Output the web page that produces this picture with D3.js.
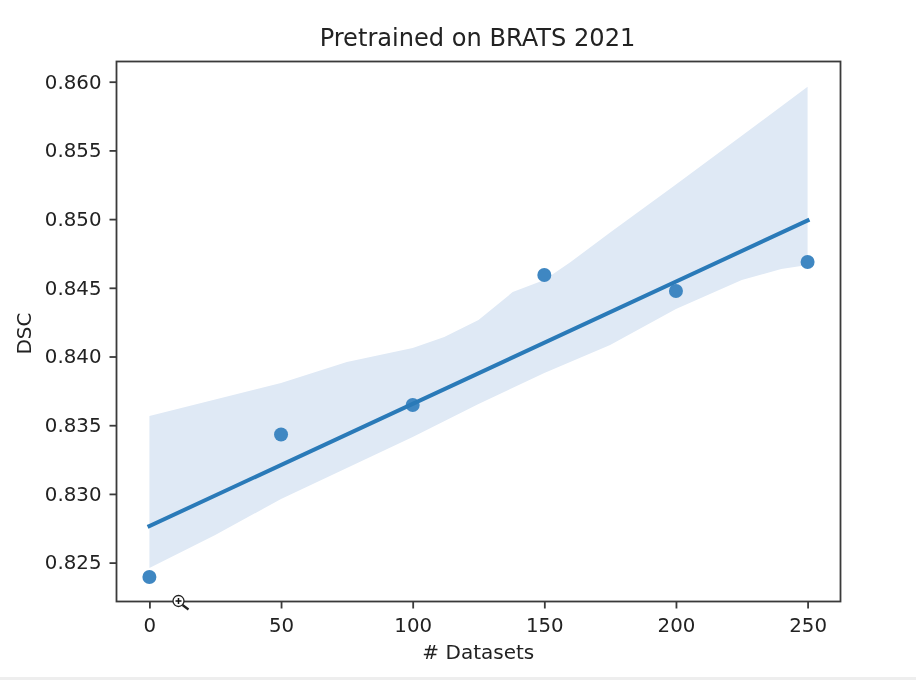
<!DOCTYPE html>
<html>
<head>
<meta charset="utf-8">
<script src="https://cdn.jsdelivr.net/npm/d3@7"></script>
<style>
html,body{margin:0;padding:0;background:#fff;}
svg{display:block;filter:blur(0.45px);}
text{font-family:"DejaVu Sans",sans-serif;fill:#222;}
</style>
</head>
<body>
<svg id="chart" width="916" height="680"></svg>
<script>
const datasets = [0, 50, 100, 150, 200, 250];
const dsc = [0.82395, 0.83432, 0.83647, 0.84593, 0.84477, 0.84688];
const fitX = [0, 250];
const fitY = [0.82766, 0.8499];
const upperX = [0, 50, 75, 100, 112, 125, 138, 150, 160, 175, 200, 225, 250];
const upperY = [0.83567, 0.83807, 0.8396, 0.84062, 0.84142, 0.84266, 0.84469, 0.84557, 0.84688, 0.84902, 0.85251, 0.85606, 0.85964];
const lowerX = [0, 25, 50, 75, 100, 125, 150, 175, 200, 225, 240, 250];
const lowerY = [0.82461, 0.82701, 0.82963, 0.83188, 0.83414, 0.83654, 0.8388, 0.84084, 0.84346, 0.84557, 0.84637, 0.84666];
const xTicks = [0, 50, 100, 150, 200, 250];
const yTicks = [0.825, 0.83, 0.835, 0.84, 0.845, 0.85, 0.855, 0.86];
const titleText = "Pretrained on BRATS 2021";
const xLabel = "# Datasets";
const yLabel = "DSC";

const axisColor = "#3a3a3a";
const svg = d3.select("#chart");
const x = d3.scaleLinear().domain([-12.5, 262.5]).range([116.5, 840.5]);
const y = d3.scaleLinear().domain([0.82217, 0.86147]).range([601.5, 61.5]);

// confidence band
const band = upperX.map((v, i) => [x(v), y(upperY[i])])
  .concat(lowerX.map((v, i) => [x(v), y(lowerY[i])]).reverse());
svg.append("path")
  .attr("d", d3.line()(band) + "Z")
  .attr("fill", "#dfe9f5");

// points
svg.append("g").selectAll("circle").data(datasets).join("circle")
  .attr("cx", d => x(d))
  .attr("cy", (d, i) => y(dsc[i]))
  .attr("r", 7)
  .attr("fill", "#3f87c2");

// regression line
svg.append("path")
  .attr("d", d3.line()(fitX.map((v, i) => [x(v), y(fitY[i])])))
  .attr("fill", "none")
  .attr("stroke", "#2a7ab8")
  .attr("stroke-width", 4)
  .attr("stroke-linecap", "square");

// frame
svg.append("rect")
  .attr("x", x.range()[0]).attr("y", y.range()[1])
  .attr("width", x.range()[1] - x.range()[0])
  .attr("height", y.range()[0] - y.range()[1])
  .attr("fill", "none").attr("stroke", axisColor).attr("stroke-width", 1.8);

// axes
const xAxis = d3.axisBottom(x).tickValues(xTicks).tickSize(7).tickPadding(9).tickFormat(d3.format("d"));
const yAxis = d3.axisLeft(y).tickValues(yTicks).tickSize(7).tickPadding(8).tickFormat(d3.format(".3f"));
const gx = svg.append("g").attr("transform", `translate(0,${y.range()[0]})`).call(xAxis);
const gy = svg.append("g").attr("transform", `translate(${x.range()[0]},0)`).call(yAxis);
[gx, gy].forEach(g => {
  g.select(".domain").remove();
  g.selectAll("line").attr("stroke", axisColor).attr("stroke-width", 1.8);
  g.selectAll("text").attr("font-size", 19.8).attr("font-family", '"DejaVu Sans"').attr("fill", "#222");
});

// titles
svg.append("text").attr("x", 477.5).attr("y", 46).attr("text-anchor", "middle")
  .attr("font-size", 24.1).text(titleText);
svg.append("text").attr("x", 478.3).attr("y", 659.3).attr("text-anchor", "middle")
  .attr("font-size", 20).text(xLabel);
svg.append("text").attr("transform", "translate(31,333.5) rotate(-90)").attr("text-anchor", "middle")
  .attr("font-size", 20).text(yLabel);

// screenshot artefacts: magnifier cursor and bottom edge
const cursor = svg.append("g").attr("transform", "translate(178.5,601)");
cursor.append("line").attr("x1", 4).attr("y1", 4).attr("x2", 10).attr("y2", 8.5).attr("stroke", "#222").attr("stroke-width", 2.2);
cursor.append("circle").attr("r", 5.5).attr("fill", "#fff").attr("stroke", "#222").attr("stroke-width", 1.3);
cursor.append("path").attr("d", "M-3 0H3M0 -3V3").attr("stroke", "#111").attr("stroke-width", 1.5);
svg.append("rect").attr("x", 0).attr("y", 677).attr("width", 916).attr("height", 3).attr("fill", "#eeeeee");
</script>
</body>
</html>
